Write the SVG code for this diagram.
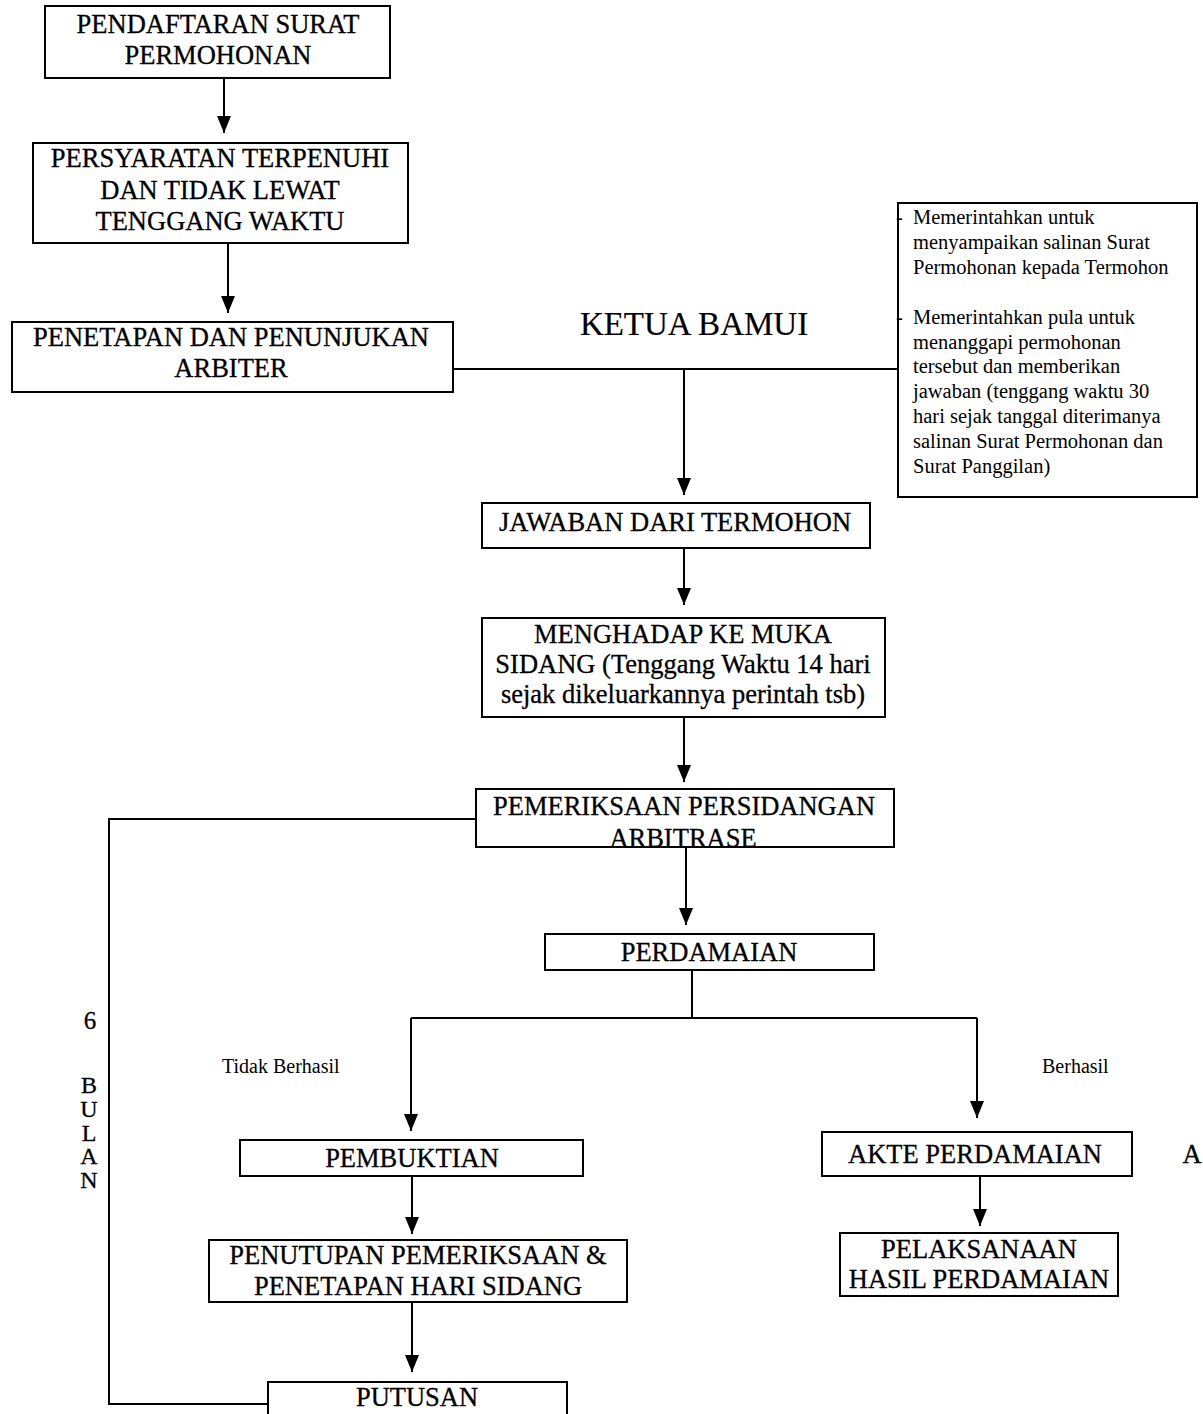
<svg xmlns="http://www.w3.org/2000/svg" width="1203" height="1414" viewBox="0 0 1203 1414">
<defs>
<style>
.box{fill:#fff;stroke:#000;stroke-width:2}
.t{font-family:"Liberation Serif","Times New Roman",serif;font-size:26.5px;fill:#000;stroke:#000;stroke-width:0.3;text-anchor:middle}
.s{font-family:"Liberation Serif","Times New Roman",serif;font-size:20.5px;fill:#000}
.lbl{font-family:"Liberation Serif","Times New Roman",serif;font-size:20px;fill:#000}
.v{font-family:"Liberation Serif","Times New Roman",serif;font-size:25px;fill:#000;stroke:#000;stroke-width:0.3;text-anchor:middle}
.vert{font-family:"Liberation Serif","Times New Roman",serif;font-size:24px;fill:#000;stroke:#000;stroke-width:0.3;writing-mode:vertical-rl;text-orientation:upright;letter-spacing:-2.2px}
.c{fill:none;stroke:#000;stroke-width:2}
</style>
<marker id="ah" markerUnits="userSpaceOnUse" markerWidth="14" markerHeight="18" refX="7" refY="17" orient="0" viewBox="0 0 14 18">
<path d="M0,0 L14,0 L7,17 z" fill="#000"/>
</marker>
</defs>
<rect width="1203" height="1414" fill="#fff"/>

<g id="connectors">
<path class="c" d="M224,78 V133" marker-end="url(#ah)"/>
<path class="c" d="M228,243 V313" marker-end="url(#ah)"/>
<path class="c" d="M453,369 H898"/>
<path class="c" d="M684,369 V495" marker-end="url(#ah)"/>
<path class="c" d="M684,548 V605" marker-end="url(#ah)"/>
<path class="c" d="M684,717 V782" marker-end="url(#ah)"/>
<path class="c" d="M476,819 H109 V1404 H268"/>
<path class="c" d="M686,847 V925" marker-end="url(#ah)"/>
<path class="c" d="M692,970 V1018"/>
<path class="c" d="M411,1018 H977"/>
<path class="c" d="M411,1018 V1131" marker-end="url(#ah)"/>
<path class="c" d="M977,1018 V1118" marker-end="url(#ah)"/>
<path class="c" d="M412,1176 V1234" marker-end="url(#ah)"/>
<path class="c" d="M412,1302 V1372" marker-end="url(#ah)"/>
<path class="c" d="M980,1176 V1226" marker-end="url(#ah)"/>
</g>

<g id="pendaftaran">
<rect class="box" x="45" y="6" width="345" height="72"/>
<text class="t" x="218" y="33">PENDAFTARAN SURAT</text>
<text class="t" x="218" y="64">PERMOHONAN</text>
</g>

<g id="persyaratan">
<rect class="box" x="33" y="143" width="375" height="100"/>
<text class="t" x="220" y="167">PERSYARATAN TERPENUHI</text>
<text class="t" x="220" y="199">DAN TIDAK LEWAT</text>
<text class="t" x="220" y="230">TENGGANG WAKTU</text>
</g>

<g id="penetapan">
<rect class="box" x="12" y="322" width="441" height="70"/>
<text class="t" x="231" y="346">PENETAPAN DAN PENUNJUKAN</text>
<text class="t" x="231" y="377">ARBITER</text>
</g>

<g id="ketua">
<text class="t" x="694" y="335" style="font-size:33px;stroke-width:0.2">KETUA BAMUI</text>
</g>

<g id="perintah">
<rect class="box" x="898" y="203" width="299" height="294"/>
<text class="s" x="896" y="224">-</text>
<text class="s" x="913" y="224">Memerintahkan untuk</text>
<text class="s" x="913" y="249">menyampaikan salinan Surat</text>
<text class="s" x="913" y="274">Permohonan kepada Termohon</text>
<text class="s" x="896" y="324">-</text>
<text class="s" x="913" y="324">Memerintahkan pula untuk</text>
<text class="s" x="913" y="349">menanggapi permohonan</text>
<text class="s" x="913" y="373">tersebut dan memberikan</text>
<text class="s" x="913" y="398">jawaban (tenggang waktu 30</text>
<text class="s" x="913" y="423">hari sejak tanggal diterimanya</text>
<text class="s" x="913" y="448">salinan Surat Permohonan dan</text>
<text class="s" x="913" y="473">Surat Panggilan)</text>
</g>

<g id="jawaban">
<rect class="box" x="482" y="503" width="388" height="45"/>
<text class="t" x="675" y="531">JAWABAN DARI TERMOHON</text>
</g>

<g id="menghadap">
<rect class="box" x="482" y="618" width="403" height="99"/>
<text class="t" x="683" y="643">MENGHADAP KE MUKA</text>
<text class="t" x="683" y="673">SIDANG (Tenggang Waktu 14 hari</text>
<text class="t" x="683" y="703">sejak dikeluarkannya perintah tsb)</text>
</g>

<g id="pemeriksaan">
<rect class="box" x="476" y="789" width="418" height="58"/>
<text class="t" x="684" y="815">PEMERIKSAAN PERSIDANGAN</text>
<text class="t" x="683" y="847">ARBITRASE</text>
</g>

<g id="perdamaian">
<rect class="box" x="545" y="934" width="329" height="36"/>
<text class="t" x="709" y="961">PERDAMAIAN</text>
</g>

<g id="label-tidak">
<text class="lbl" x="222" y="1073">Tidak Berhasil</text>
</g>
<g id="label-berhasil">
<text class="lbl" x="1042" y="1073">Berhasil</text>
</g>

<g id="enam-bulan">
<text class="v" x="90" y="1029">6</text>
<text class="vert" x="89" y="1072">BULAN</text>
</g>

<g id="pembuktian">
<rect class="box" x="240" y="1140" width="343" height="36"/>
<text class="t" x="412" y="1167">PEMBUKTIAN</text>
</g>

<g id="penutupan">
<rect class="box" x="209" y="1240" width="418" height="62"/>
<text class="t" x="418" y="1264">PENUTUPAN PEMERIKSAAN &amp;</text>
<text class="t" x="418" y="1295">PENETAPAN HARI SIDANG</text>
</g>

<g id="putusan">
<rect class="box" x="268" y="1382" width="299" height="40"/>
<text class="t" x="417" y="1406">PUTUSAN</text>
</g>

<g id="akte">
<rect class="box" x="822" y="1132" width="310" height="44"/>
<text class="t" x="975" y="1163">AKTE PERDAMAIAN</text>
</g>

<g id="a-label">
<text class="t" x="1192" y="1163">A</text>
</g>

<g id="pelaksanaan">
<rect class="box" x="840" y="1233" width="278" height="63"/>
<text class="t" x="979" y="1258">PELAKSANAAN</text>
<text class="t" x="979" y="1288">HASIL PERDAMAIAN</text>
</g>
</svg>
